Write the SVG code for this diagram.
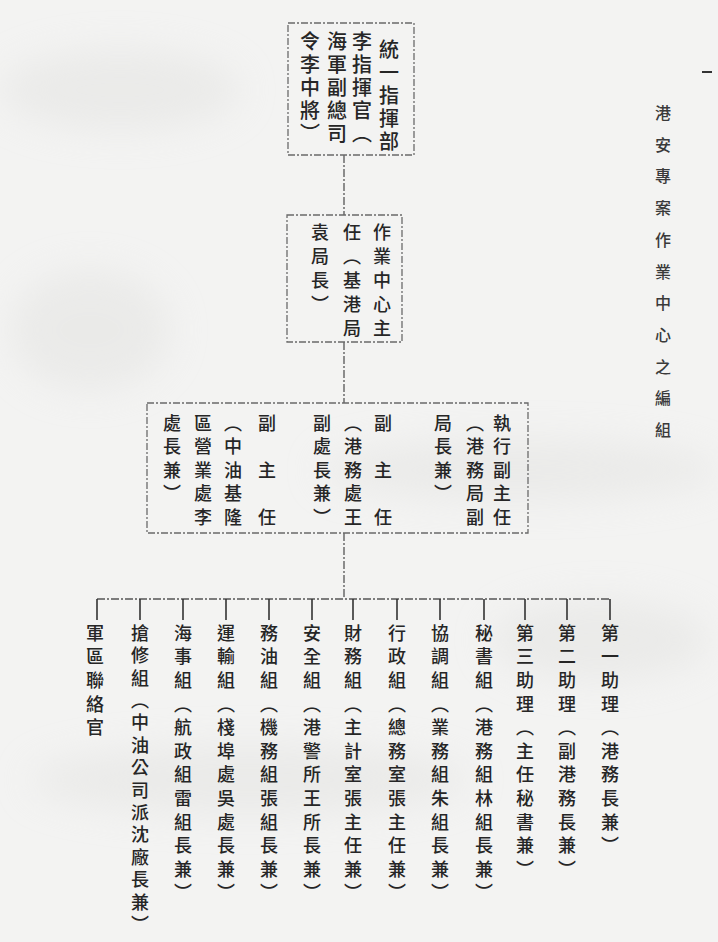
<svg xmlns="http://www.w3.org/2000/svg" width="718" height="942" viewBox="0 0 718 942">
<style>
.bg{fill:#f3f3f2}
.box{fill:none;stroke:#6a6a6a;stroke-width:1.3;stroke-dasharray:7 2 2 2}
.conn{fill:none;stroke:#555;stroke-width:1.3;stroke-dasharray:8 2 2 2}
.tick{stroke:#333;stroke-width:1.6}
.v{font-family:"Noto Sans CJK TC","Noto Sans CJK SC",sans-serif;font-weight:500;fill:#262626;writing-mode:vertical-rl;text-anchor:start}
.t1{font-size:20px;letter-spacing:3px}
.t2{font-size:18px;letter-spacing:6px}
.t3{font-size:18px;letter-spacing:5.5px}
.t4{font-size:18px;letter-spacing:5.6px}
.t5{font-size:18px;letter-spacing:4.4px}
.tt{font-size:16px;letter-spacing:15.7px;fill:#3a3a3a}
</style>
<defs>
<filter id="blur" x="-50%" y="-50%" width="200%" height="200%"><feGaussianBlur stdDeviation="18"/></filter>
</defs>
<rect class="bg" x="0" y="0" width="718" height="942"/>
<g filter="url(#blur)" fill="#e2e2e0" opacity="0.5">
<ellipse cx="120" cy="90" rx="120" ry="40"/>
<ellipse cx="520" cy="470" rx="200" ry="30"/>
<ellipse cx="250" cy="780" rx="220" ry="35"/>
<ellipse cx="600" cy="640" rx="110" ry="40"/>
<ellipse cx="90" cy="330" rx="80" ry="60"/>
</g>
<line x1="702" y1="72" x2="712" y2="72" stroke="#333" stroke-width="2"/>

<g id="title">
<text class="v tt" x="663" y="105">港安專案作業中心之編組</text>
</g>

<g id="connectors">
<line class="conn" x1="344" y1="155" x2="344" y2="215"/>
<line class="conn" x1="344" y1="342" x2="344" y2="403"/>
<line class="conn" x1="344" y1="533" x2="344" y2="599"/>
<line class="conn" x1="97" y1="599" x2="610" y2="599"/>
<line class="tick" x1="97" y1="599" x2="97" y2="620"/>
<line class="tick" x1="140" y1="599" x2="140" y2="620"/>
<line class="tick" x1="183" y1="599" x2="183" y2="620"/>
<line class="tick" x1="226" y1="599" x2="226" y2="620"/>
<line class="tick" x1="269" y1="599" x2="269" y2="620"/>
<line class="tick" x1="312" y1="599" x2="312" y2="620"/>
<line class="tick" x1="353" y1="599" x2="353" y2="620"/>
<line class="tick" x1="397" y1="599" x2="397" y2="620"/>
<line class="tick" x1="440" y1="599" x2="440" y2="620"/>
<line class="tick" x1="484" y1="599" x2="484" y2="620"/>
<line class="tick" x1="525" y1="599" x2="525" y2="620"/>
<line class="tick" x1="567" y1="599" x2="567" y2="620"/>
<line class="tick" x1="610" y1="599" x2="610" y2="620"/>
</g>

<g id="command">
<rect class="box" x="288" y="23" width="126" height="132"/>
<text class="v t1" x="389" y="39">統一指揮部</text>
<text class="v t1" x="362" y="31">李指揮官（</text>
<text class="v t1" x="337" y="31">海軍副總司</text>
<text class="v t1" x="310" y="31">令李中將）</text>
</g>

<g id="center">
<rect class="box" x="287" y="215" width="115" height="127"/>
<text class="v t2" x="382" y="223">作業中心主</text>
<text class="v t2" x="352" y="223">任（基港局</text>
<text class="v t2" x="320" y="223">袁局長）</text>
</g>

<g id="deputies">
<rect class="box" x="147" y="403" width="381" height="130"/>
<text class="v t3" x="502" y="414">執行副主任</text>
<text class="v t3" x="475" y="414">（港務局副</text>
<text class="v t3" x="443" y="414">局長兼）</text>
<text class="v t3" x="383" y="414">副　主　任</text>
<text class="v t3" x="353" y="414">（港務處王</text>
<text class="v t3" x="322" y="414">副處長兼）</text>
<text class="v t3" x="267" y="414">副　主　任</text>
<text class="v t3" x="233" y="414">（中油基隆</text>
<text class="v t3" x="203" y="414">區營業處李</text>
<text class="v t3" x="172" y="414">處長兼）</text>
</g>

<g id="g1"><text class="v t4" x="610" y="624">第一助理（港務長兼）</text></g>
<g id="g2"><text class="v t4" x="567" y="624">第二助理（副港務長兼）</text></g>
<g id="g3"><text class="v t4" x="525" y="624">第三助理（主任秘書兼）</text></g>
<g id="g4"><text class="v t4" x="484" y="624">秘書組（港務組林組長兼）</text></g>
<g id="g5"><text class="v t4" x="440" y="624">協調組（業務組朱組長兼）</text></g>
<g id="g6"><text class="v t4" x="397" y="624">行政組（總務室張主任兼）</text></g>
<g id="g7"><text class="v t4" x="353" y="624">財務組（主計室張主任兼）</text></g>
<g id="g8"><text class="v t4" x="312" y="624">安全組（港警所王所長兼）</text></g>
<g id="g9"><text class="v t4" x="269" y="624">務油組（機務組張組長兼）</text></g>
<g id="g10"><text class="v t4" x="226" y="624">運輸組（棧埠處吳處長兼）</text></g>
<g id="g11"><text class="v t4" x="183" y="624">海事組（航政組雷組長兼）</text></g>
<g id="g12"><text class="v t5" x="140" y="624">搶修組（中油公司派沈廠長兼）</text></g>
<g id="g13"><text class="v t4" x="95" y="624">軍區聯絡官</text></g>
</svg>
